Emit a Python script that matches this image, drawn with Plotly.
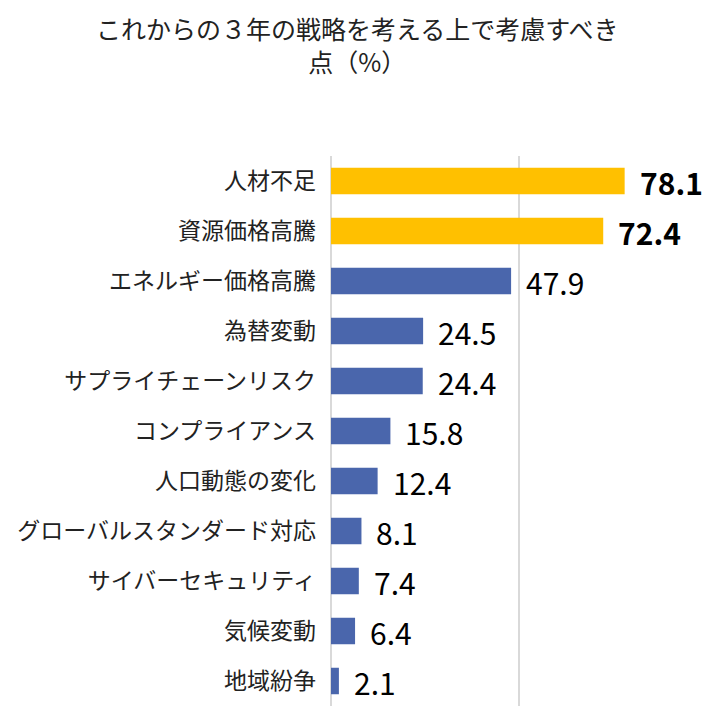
import plotly.graph_objects as go

categories = ["人材不足", "資源価格高騰", "エネルギー価格高騰", "為替変動", "サプライチェーンリスク",
              "コンプライアンス", "人口動態の変化", "グローバルスタンダード対応", "サイバーセキュリティ",
              "気候変動", "地域紛争"]
values = [78.1, 72.4, 47.9, 24.5, 24.4, 15.8, 12.4, 8.1, 7.4, 6.4, 2.1]
highlight = [True, True, False, False, False, False, False, False, False, False, False]
title_text = "これからの３年の戦略を考える上で考慮すべき<br>点（%）"

YELLOW = "#FFC000"
BLUE = "#4A66AC"
colors = [YELLOW if h else BLUE for h in highlight]

W, H = 706, 707
ML, MR, MT, MB = 323, 4, 148, 9
plot_w = W - ML - MR
plot_h = H - MT - MB

fig = go.Figure(go.Bar(
    x=values, y=categories, orientation="h",
    marker=dict(color=colors, line=dict(width=0)),
    width=0.53,
    hoverinfo="skip",
))

for c, v, h in zip(categories, values, highlight):
    fig.add_annotation(
        x=v, y=c, xref="x", yref="y",
        text=(f"<b>{v:.1f}</b>" if h else f"{v:.1f}"),
        showarrow=False, xanchor="left", yanchor="middle", xshift=13, yshift=-1,
        font=dict(family="Noto Sans CJK JP", size=30, color="#000000"),
    )

# title as a centered annotation
fig.add_annotation(
    text=title_text, showarrow=False,
    xref="paper", yref="paper",
    x=(W / 2 - 4 - ML) / plot_w, y=1 + (MT - 37) / plot_h,
    xanchor="center", yanchor="middle", align="center", borderpad=0,
    font=dict(family="Noto Sans CJK JP", size=25, color="#222222"),
)

fig.update_layout(
    width=W, height=H,
    paper_bgcolor="white", plot_bgcolor="white",
    margin=dict(l=ML, r=MR, t=MT, b=MB, autoexpand=False),
    showlegend=False,
    font=dict(family="Noto Sans CJK JP"),
)
fig.update_xaxes(range=[0, 100.8], tickvals=[0, 50, 100], showticklabels=False, showgrid=True,
                 gridcolor="#D9D9D9", gridwidth=1.5, zeroline=True, zerolinecolor="#D9D9D9",
                 zerolinewidth=1.5, fixedrange=True)
fig.update_yaxes(autorange="reversed", tickfont=dict(family="Noto Sans CJK JP", size=23, color="#222222"),
                 ticks="", ticklabelstandoff=14, showgrid=False, fixedrange=True, automargin=False)

fig.write_html("out.html")
